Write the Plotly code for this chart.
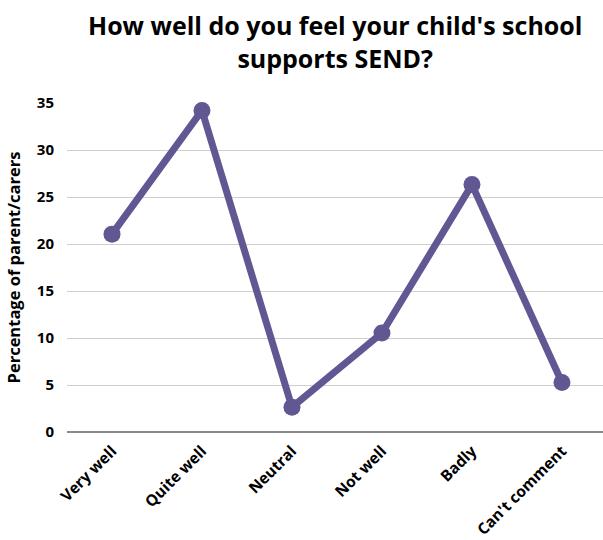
import plotly.graph_objects as go

# Survey responses (percentage of parent/carers)
categories = ["Very well", "Quite well", "Neutral", "Not well", "Badly", "Can't comment"]
percentages = [21.05, 34.21, 2.63, 10.53, 26.32, 5.26]
y_ticks = [0, 5, 10, 15, 20, 25, 30, 35]

line_color = "#615893"
font_family = "Open Sans, Noto Sans, sans-serif"

fig = go.Figure(
    go.Scatter(
        x=list(range(len(categories))),
        y=percentages,
        mode="lines+markers",
        line=dict(color=line_color, width=7),
        marker=dict(color=line_color, size=17),
        cliponaxis=False,
        hoverinfo="y",
    )
)

fig.update_layout(
    width=603,
    height=540,
    margin=dict(l=67, r=0, t=103, b=108),
    paper_bgcolor="white",
    plot_bgcolor="white",
    showlegend=False,
    font=dict(family=font_family, color="black"),
    annotations=[
        dict(
            text="<b>How well do you feel your child's school<br>supports SEND?</b>",
            xref="paper",
            yref="paper",
            x=0.5,
            y=1.186,
            xanchor="center",
            yanchor="middle",
            showarrow=False,
            align="center",
            font=dict(size=25, family=font_family, color="black"),
        )
    ],
)

fig.update_xaxes(
    range=[-0.5, 5.456],
    tickmode="array",
    tickvals=list(range(len(categories))),
    ticktext=[f"<b>{c}</b>" for c in categories],
    tickangle=-45,
    tickfont=dict(size=15.5, family=font_family, color="black"),
    ticklabelstandoff=6,
    automargin=False,
    showgrid=False,
    zeroline=False,
    showline=False,
    ticks="",
)

fig.update_yaxes(
    range=[0, 35],
    tickmode="array",
    tickvals=y_ticks,
    ticktext=[f"<b>{v}</b>" for v in y_ticks],
    tickfont=dict(size=15, family=font_family, color="black"),
    ticklabelstandoff=12,
    automargin=False,
    showgrid=True,
    gridcolor="#cfcfcf",
    gridwidth=1.3,
    zeroline=True,
    zerolinecolor="#8a8a8a",
    zerolinewidth=2,
    showline=False,
    ticks="",
    title=dict(
        text="<b>Percentage of parent/carers</b>",
        font=dict(size=16.5, family=font_family, color="black"),
        standoff=12,
    ),
)

fig.write_html("out.html")
